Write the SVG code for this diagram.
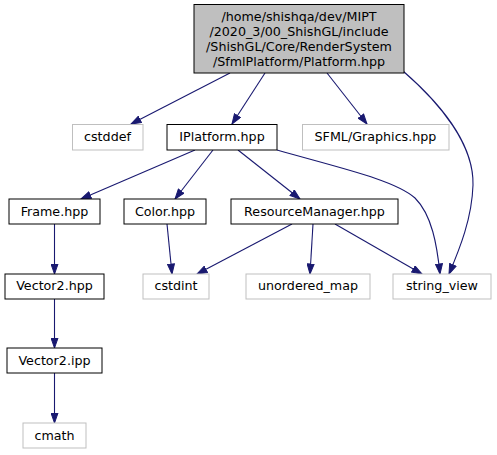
<svg xmlns="http://www.w3.org/2000/svg" width="497" height="455" viewBox="0 0 497 455">
<defs>
<marker id="ah" viewBox="0 0 11 8" refX="10.5" refY="4" markerWidth="11" markerHeight="8" markerUnits="userSpaceOnUse" orient="auto">
<path d="M0.5,0.5 L10.5,4 L0.5,7.5 z" fill="#191970" stroke="#191970" stroke-width="1"/>
</marker>
</defs>
<style>
text{font-family:"DejaVu Sans","Liberation Sans",sans-serif;font-size:12.7px;fill:#000;text-anchor:middle}
.n rect{fill:#fff;stroke:#000;stroke-width:1}
.x rect{fill:#fff;stroke:#bfbfbf;stroke-width:1}
.root rect{fill:#bfbfbf;stroke:#000;stroke-width:1}
#edges path{fill:none;stroke:#191970;stroke-width:1.1;marker-end:url(#ah)}
</style>
<rect width="497" height="455" fill="#fff"/>
<g id="edges">
<path d="M230,73 L131,124"/>
<path d="M265,73 L232,124"/>
<path d="M327,73 L367,124"/>
<path d="M403,71 C441,104 474,145 473,185 C472,218 460,248 449,274"/>
<path d="M195,150 L81,199"/>
<path d="M213,150 L175,199"/>
<path d="M238,150 L300,199"/>
<path d="M277,150 C340,168 395,180 415,198 C432,215 437,245 440,274"/>
<path d="M54.5,224 L54.5,274"/>
<path d="M167,224 L172,274"/>
<path d="M292,224 L197,274"/>
<path d="M313,224 L310,274"/>
<path d="M335,224 L422,274"/>
<path d="M54.5,299 L54.5,348"/>
<path d="M54.5,373 L54.5,423"/>
</g>
<g id="root" class="root">
<rect x="194" y="4.5" width="210" height="68.5"/>
<text x="299" y="21">/home/shishqa/dev/MIPT</text>
<text x="299" y="36">/2020_3/00_ShishGL/include</text>
<text x="299" y="51">/ShishGL/Core/RenderSystem</text>
<text x="299" y="66">/SfmlPlatform/Platform.hpp</text>
</g>
<g id="cstddef" class="x">
<rect x="72.5" y="124.5" width="70.5" height="25.5"/>
<text x="107.5" y="141">cstddef</text>
</g>
<g id="iplatform" class="n">
<rect x="167" y="124.5" width="110" height="25.5"/>
<text x="222" y="141">IPlatform.hpp</text>
</g>
<g id="sfml" class="x">
<rect x="302.5" y="124.5" width="146.5" height="25.5"/>
<text x="375.5" y="141">SFML/Graphics.hpp</text>
</g>
<g id="frame" class="n">
<rect x="9" y="199" width="91" height="25"/>
<text x="54.5" y="215.5">Frame.hpp</text>
</g>
<g id="color" class="n">
<rect x="124" y="199" width="82" height="25"/>
<text x="165" y="215.5">Color.hpp</text>
</g>
<g id="resmgr" class="n">
<rect x="231" y="199" width="167" height="25"/>
<text x="314.5" y="215.5">ResourceManager.hpp</text>
</g>
<g id="vector2hpp" class="n">
<rect x="5" y="274" width="99" height="25"/>
<text x="54.5" y="290">Vector2.hpp</text>
</g>
<g id="cstdint" class="x">
<rect x="143" y="274" width="66" height="25"/>
<text x="176" y="290">cstdint</text>
</g>
<g id="unordered_map" class="x">
<rect x="246" y="274" width="124" height="25"/>
<text x="308" y="290">unordered_map</text>
</g>
<g id="string_view" class="x">
<rect x="393" y="274" width="98" height="25"/>
<text x="442" y="290">string_view</text>
</g>
<g id="vector2ipp" class="n">
<rect x="7" y="348" width="95" height="25"/>
<text x="54.5" y="364.5">Vector2.ipp</text>
</g>
<g id="cmath" class="x">
<rect x="23" y="423" width="63" height="25"/>
<text x="54.5" y="439.5">cmath</text>
</g>
</svg>
